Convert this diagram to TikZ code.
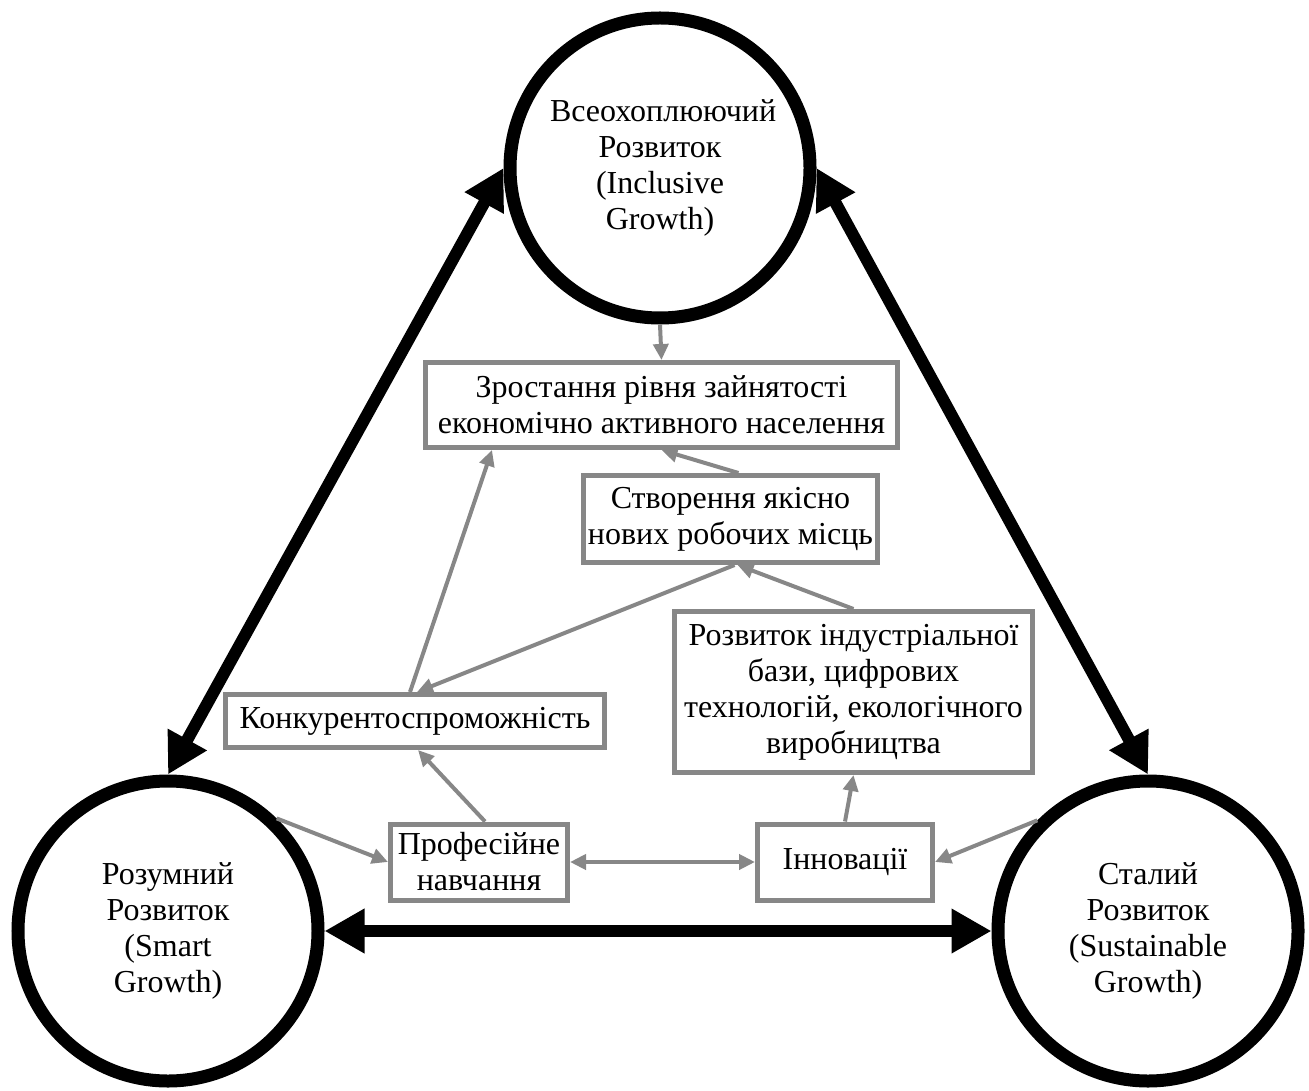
\documentclass[tikz,border=0pt]{standalone}
\usepackage{fontspec}
\setmainfont{Liberation Serif}
\usetikzlibrary{arrows.meta}
\definecolor{boxgray}{RGB}{135,135,135}
\begin{document}
\begin{tikzpicture}[x=0.5pt,y=-0.5pt,
  font=\fontsize{16}{18}\selectfont,
  growth/.style={circle,draw=black,line width=6.5pt,fill=white,
    minimum size=150pt,inner sep=0pt,align=center,text width=110pt},
  stepbox/.style={draw=boxgray,line width=2.5pt,fill=white,align=center,
    inner sep=2pt},
  bigarrow/.style={line width=6pt,{Triangle[length=20pt,width=21pt]}-{Triangle[length=20pt,width=21pt]}},
  link/.style={draw=boxgray,line width=2pt,-{Triangle[length=8pt,width=7.5pt]}},
  link2/.style={draw=boxgray,line width=2pt,{Triangle[length=8pt,width=7.5pt]}-{Triangle[length=8pt,width=7.5pt]}}]
\useasboundingbox (0,0) rectangle (1309,1090);

% three growth pillars
\node[growth] (T) at (660,168) {Всеохоплюючий\\Розвиток\\(Inclusive\\Growth)};
\node[growth] (L) at (168,931) {Розумний\\Розвиток\\(Smart\\Growth)};
\node[growth] (R) at (1148,931) {Сталий\\Розвиток\\(Sustainable\\Growth)};

% intermediate outcomes
\node[stepbox,minimum width=236pt,minimum height=42.5pt] (B1) at (661.5,405)
  {Зростання рівня зайнятості\\економічно активного населення};
\node[stepbox,minimum width=145pt,minimum height=43.5pt] (B2) at (730.5,519)
  {Створення якісно\\нових робочих місць};
\node[stepbox,minimum width=189.5pt,minimum height=26.5pt] (B3) at (415,721)
  {Конкурентоспроможність};
\node[stepbox,minimum width=179pt,minimum height=80.5pt] (B4) at (853.5,692)
  {Розвиток індустріальної\\бази, цифрових\\технологій, екологічного\\виробництва};
\node[stepbox,minimum width=88.5pt,minimum height=38pt] (B5) at (479,862)
  {Професійне\\навчання};
\node[stepbox,minimum width=87.5pt,minimum height=38pt] (B6) at (845,862)
  {Інновації};

% links between the pillars
\draw[bigarrow] (L.north) -- (T.west);
\draw[bigarrow] (T.east) -- (R.north);
\draw[bigarrow] (L.east) -- (R.west);

% links between the outcomes
\draw[link] (T.south) -- (B1.north);
\draw[link] ([xshift=4pt]B2.north) -- (B1.south);
\draw[link] (B4.north) -- ([xshift=3.5pt]B2.south);
\draw[link] ([xshift=2pt]B2.south) -- ([xshift=1pt]B3.north);
\draw[link] ([xshift=-2.5pt]B3.north) -- ([xshift=34.5pt]B1.south west);
\draw[link] ([xshift=3pt]B5.north) -- ([xshift=1.5pt]B3.south);
\draw[link] (L.46) -- (B5.west);
\draw[link2] (B5.east) -- (B6.west);
\draw[link] (R.135) -- (B6.east);
\draw[link] (B6.north) -- (B4.south);
\end{tikzpicture}
\end{document}
